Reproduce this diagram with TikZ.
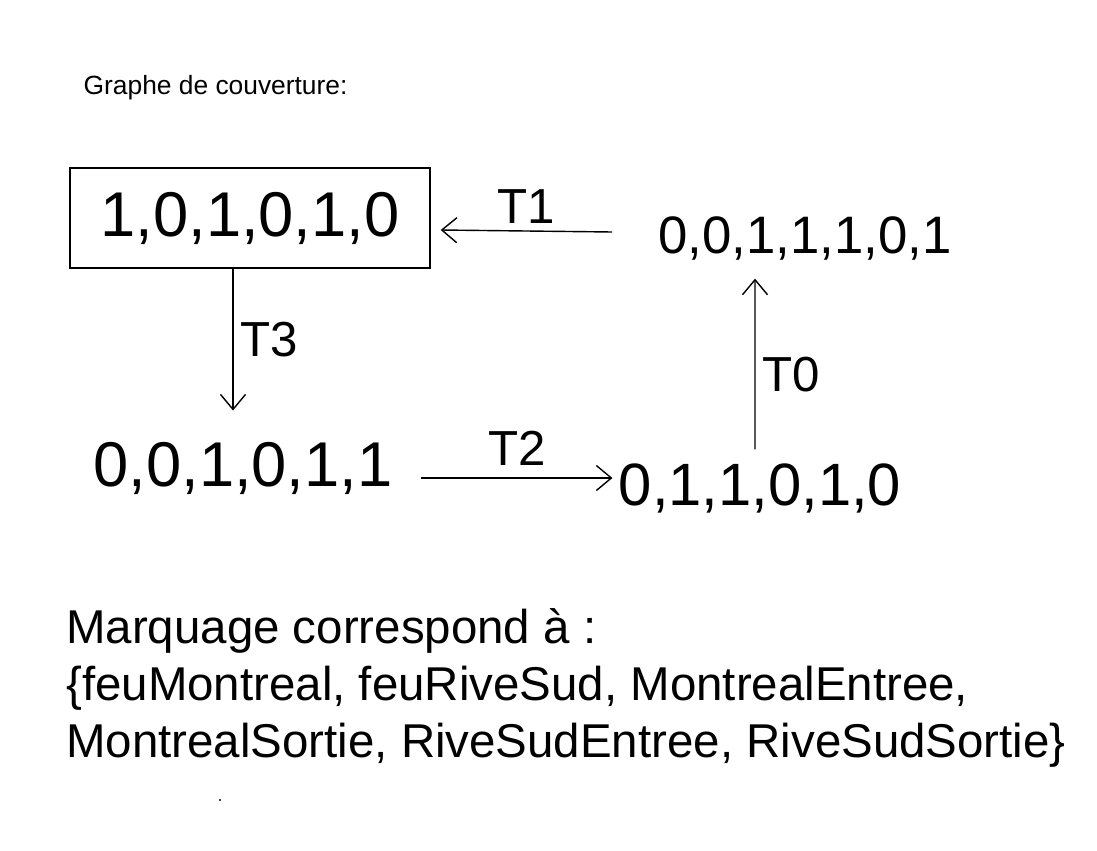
\documentclass[tikz,border=0pt]{standalone}
\usepackage{fontspec}
\setmainfont{Liberation Sans}
\usetikzlibrary{arrows.meta}

\begin{document}
\begin{tikzpicture}[>={Straight Barb[length=3mm,width=5mm]},
  marking/.style={font=\fontsize{36}{40}\selectfont,inner sep=2pt},
  trans/.style={line width=0.8pt,->},
  tlabel/.style={font=\fontsize{28}{32}\selectfont,inner sep=4pt}]
  \useasboundingbox (0,0) rectangle (21.94,-17);
  \node[anchor=west,font=\fontsize{15}{18}\selectfont] (title) at (1.55,-1.76) {Graphe de couverture:};
  % markings of the coverability graph
  \node[marking,draw,line width=0.8pt,minimum width=7.2cm,minimum height=2cm] (m0) at (5.0,-4.36) {1,0,1,0,1,0};
  \node[marking] (m1) at (4.86,-9.36) {0,0,1,0,1,1};
  \node[marking,font=\fontsize{34}{40}\selectfont] (m2) at (15.2,-9.76) {0,1,1,0,1,0};
  \node[marking,font=\fontsize{30}{36}\selectfont] (m3) at (16.1,-4.76) {0,0,1,1,1,0,1};
  % transitions
  \draw[trans] ([shift={(-0.85,0.12)}]m3.west) -- ([shift={(0.2,-0.24)}]m0.east) node[midway,above,tlabel] {T1};
  \draw[trans] ([xshift=-0.34cm]m0.south) -- ([xshift=-0.2cm,yshift=0.55cm]m1.north) node[midway,right,tlabel] {T3};
  \draw[trans] ([shift={(0.5,-0.2)}]m1.east) -- ([shift={(-0.05,0.2)}]m2.west) node[midway,above,tlabel,yshift=3pt] {T2};
  \draw[trans] ([shift={(-0.1,0.2)}]m2.north) -- ([shift={(-1.0,-0.3)}]m3.south) node[midway,right,tlabel,yshift=-6pt] {T0};
  \node[anchor=north west,align=left,font=\fontsize{27}{57\dimexpr0.567pt\relax}\selectfont] (meaning) at (1.2,-12.05)
    {Marquage correspond à :\\
     \{feuMontreal, feuRiveSud, MontrealEntree,\\
     MontrealSortie, RiveSudEntree, RiveSudSortie\}};
  \fill (4.4,-16.0) circle (0.6pt);
\end{tikzpicture}
\end{document}
